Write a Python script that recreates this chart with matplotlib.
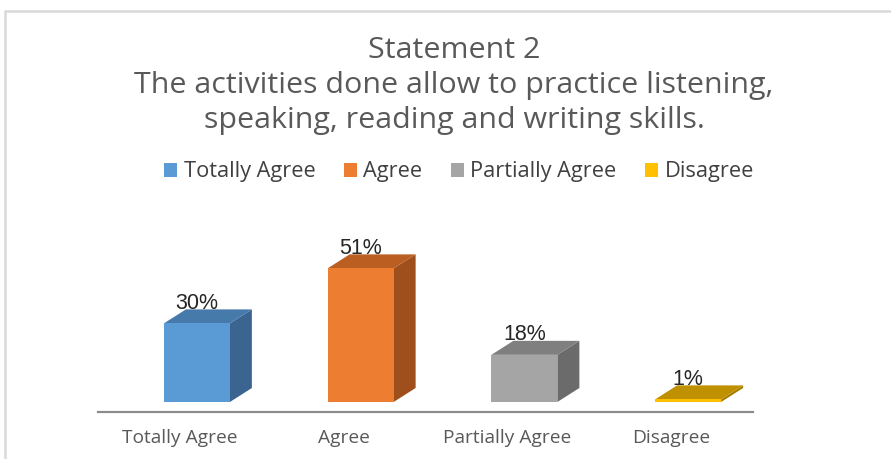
import matplotlib
matplotlib.use("Agg")
import matplotlib.pyplot as plt
from matplotlib.patches import Rectangle, Polygon, Patch

# Survey results
categories = ["Totally Agree", "Agree", "Partially Agree", "Disagree"]
percentages = [30, 51, 18, 1]
title_lines = [
    "Statement 2",
    "The activities done allow to practice listening,",
    "speaking, reading and writing skills.",
]

# Face colours for the pseudo-3D columns
front_colors = ["#5B9BD5", "#ED7D31", "#A5A5A5", "#FFC000"]
side_colors = ["#3B6590", "#9E4F1C", "#6B6B6B", "#A67C00"]
top_colors = ["#467AAB", "#BA5E22", "#7F7F7F", "#BF9000"]

W, H, DPI = 891, 459, 100
fig = plt.figure(figsize=(W / DPI, H / DPI), dpi=DPI)
fig.patch.set_facecolor("white")


def px_box(left, top, right, bottom):
    return [left / W, 1 - bottom / H, (right - left) / W, (bottom - top) / H]


# chart area geometry (pixels)
AX_L, AX_T, AX_R, AX_B = 98, 200, 753, 412
FLOOR_GAP = 10          # gap between front baseline and column foot
PX_PER_UNIT = 2.62      # vertical pixels per percentage point
FRONT_W = 66            # column front face width
FRONT_SHIFT = 17        # column front face offset from slot centre
DEPTH_X, DEPTH_Y = 22, 14

ax = fig.add_axes(px_box(AX_L, AX_T, AX_R, AX_B))
n = len(categories)
ax.set_xlim(-0.5, n - 0.5)
ax.set_ylim(-FLOOR_GAP / PX_PER_UNIT, (AX_B - FLOOR_GAP - AX_T) / PX_PER_UNIT)
x_scale = (AX_R - AX_L) / n  # pixels per category

fw = FRONT_W / x_scale
fs = FRONT_SHIFT / x_scale
dx = DEPTH_X / x_scale
dy = DEPTH_Y / PX_PER_UNIT

for i, (v, fc, sc, tc) in enumerate(zip(percentages, front_colors, side_colors, top_colors)):
    x0 = i + fs - fw / 2
    x1 = x0 + fw
    ax.add_patch(Polygon([(x1, 0), (x1 + dx, dy), (x1 + dx, v + dy), (x1, v)],
                         closed=True, facecolor=sc, edgecolor="none", zorder=2))
    ax.add_patch(Polygon([(x0, v), (x1, v), (x1 + dx, v + dy), (x0 + dx, v + dy)],
                         closed=True, facecolor=tc, edgecolor="none", zorder=3))
    ax.add_patch(Rectangle((x0, 0), fw, v, facecolor=fc, edgecolor="none", zorder=3))
    ax.text(i + fs, v + dy + 0.3, f"{v}%", ha="center", va="baseline",
            fontsize=15.5, family="Liberation Sans", color="#262626", zorder=5)

for s in ["top", "left", "right"]:
    ax.spines[s].set_visible(False)
ax.spines["bottom"].set_color("#8C8C8C")
ax.spines["bottom"].set_linewidth(1.6)
ax.set_yticks([])
ax.set_xticks(range(n))
ax.set_xticklabels(categories, family="Open Sans", fontsize=13.8, color="#595959")
ax.tick_params(axis="x", length=0, pad=12)

# title
fig.text(454 / W, 1 - 85.5 / H, "\n".join(title_lines), ha="center", va="center",
         family="Open Sans", fontsize=21.9, color="#595959", linespacing=1.27)

# legend
handles = [Patch(facecolor=c, edgecolor="none") for c in front_colors]
fig.legend(handles, categories, loc="center", bbox_to_anchor=(459 / W, 1 - 172 / H),
           ncol=n, frameon=False, handlelength=0.6, handleheight=0.6,
           handletextpad=0.3, columnspacing=1.3,
           prop={"family": "Open Sans", "size": 15.7}, labelcolor="#404040")

# chart frame
fig.patches.append(Rectangle((5 / W, -0.1), 1.2, 1 - 11 / H + 0.1, transform=fig.transFigure,
                             facecolor="none", edgecolor="#D9D9D9", linewidth=1.8))

fig.savefig("out.png", dpi=DPI, facecolor="white")
